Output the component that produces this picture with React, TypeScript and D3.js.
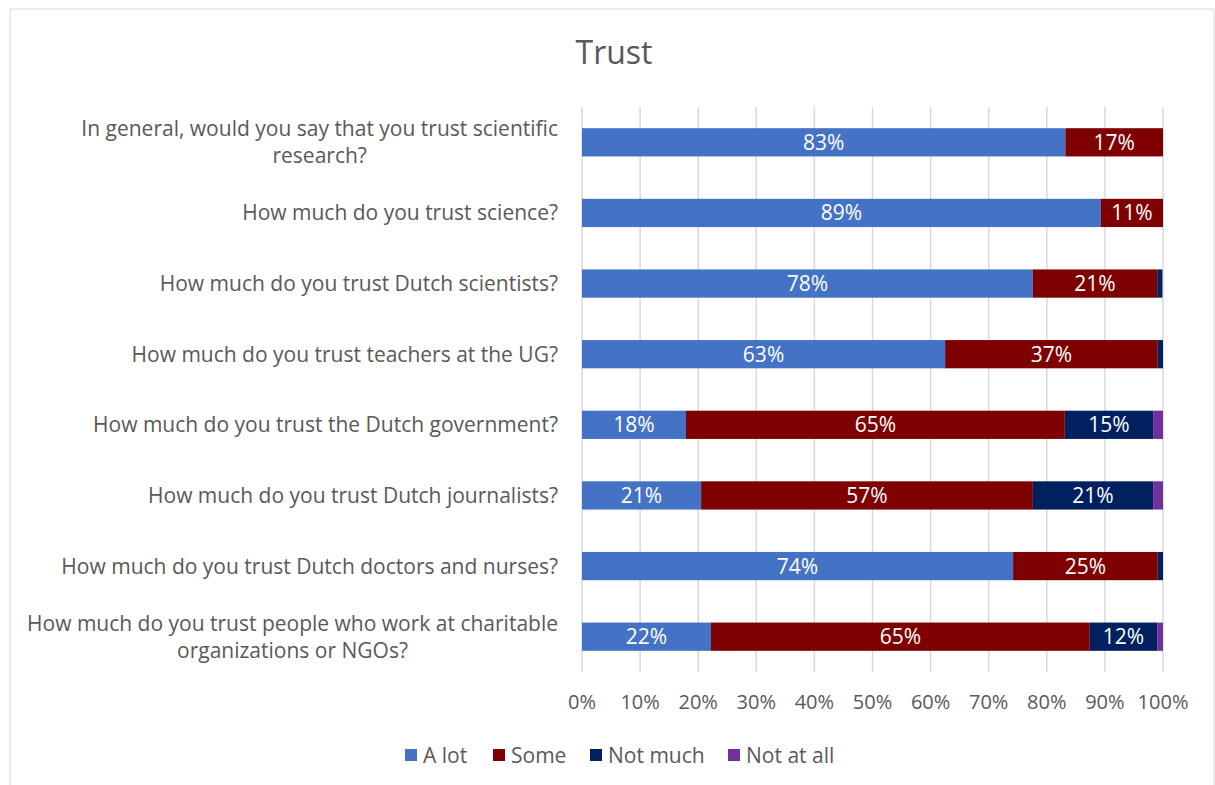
import React from "react";
import * as d3 from "d3";

const categories = [
  ["In general, would you say that you trust scientific", "research?"],
  ["How much do you trust science?"],
  ["How much do you trust Dutch scientists?"],
  ["How much do you trust teachers at the UG?"],
  ["How much do you trust the Dutch government?"],
  ["How much do you trust Dutch journalists?"],
  ["How much do you trust Dutch doctors and nurses?"],
  ["How much do you trust people who work at charitable", "organizations or NGOs?"],
];
const seriesNames = ["A lot", "Some", "Not much", "Not at all"];
const aLot = [83.2, 89.3, 77.6, 62.5, 17.9, 20.5, 74.2, 22.2];
const some = [16.8, 10.7, 21.4, 36.6, 65.2, 57.1, 24.9, 65.2];
const notMuch = [0, 0, 0.9, 0.9, 15.2, 20.7, 0.9, 11.6];
const notAtAll = [0, 0, 0, 0, 1.7, 1.7, 0, 1.0];
const xTicks = [0, 10, 20, 30, 40, 50, 60, 70, 80, 90, 100];
const colors = ["#4472C4", "#7F0000", "#002060", "#7030A0"];

const FONT = "'Open Sans', Lato, sans-serif";
let ctx: CanvasRenderingContext2D | null = null;
function measure(t: string, size: number) {
  if (!ctx) ctx = document.createElement("canvas").getContext("2d");
  ctx!.font = `${size}px 'Open Sans'`;
  return ctx!.measureText(t).width;
}

export default function App() {
  const W = 1215, H = 785;
  const left = 582, right = 1163, top = 107, bottom = 672;
  const x = d3.scaleLinear().domain([0, 100]).range([left, right]);
  const y = d3.scaleBand().domain(categories.map((_, i) => String(i))).range([top, bottom]).paddingInner(0.6).paddingOuter(0.3);
  const rows = categories.map((_, i) => ({ i, v: [aLot[i], some[i], notMuch[i], notAtAll[i]] }));
  const stack = d3.stack<any>().keys(["0", "1", "2", "3"]).value((d: any, k: string) => d.v[+k]);
  const stacked = stack(rows);
  const gray = "#595959";
  const catSize = 21;
  const legendX = [405, 493, 590, 728];
  return (
    <svg width={W} height={H} style={{ position: "absolute", left: 0, top: 0, background: "#fff" }} fontFamily={FONT}>
      <rect x={10} y={9} width={1204} height={800} fill="#fff" stroke="#d9d9d9" />
      <text x={614} y={64} textAnchor="middle" fontSize={32} fill={gray}>Trust</text>
      {xTicks.map((t) => (
        <line key={t} x1={x(t)} x2={x(t)} y1={top} y2={bottom} stroke="#d9d9d9" strokeWidth={1.5} />
      ))}
      {xTicks.map((t) => (
        <text key={"l" + t} x={x(t)} y={709} textAnchor="middle" fontSize={20} fill={gray}>{t}%</text>
      ))}
      {stacked.map((s, si) => (
        <g key={si}>
          {s.map((d: any, i) => {
            const w = x(d[1]) - x(d[0]);
            if (w <= 0) return null;
            const yy = y(String(i))!;
            const val = d[1] - d[0];
            return (
              <g key={i}>
                <rect x={x(d[0])} y={yy} width={w} height={y.bandwidth()} fill={colors[si]} />
                {val >= 5 && (
                  <text x={(x(d[0]) + x(d[1])) / 2} y={yy + y.bandwidth() / 2 + 7.5} textAnchor="middle" fontSize={21} fill="#fff">
                    {Math.round(val)}%
                  </text>
                )}
              </g>
            );
          })}
        </g>
      ))}
      {categories.map((lines, i) => {
        const cy = y(String(i))! + y.bandwidth() / 2;
        const lh = 27;
        const maxW = Math.max(...lines.map((l) => measure(l, catSize)));
        const cx = 558 - maxW / 2;
        return (
          <text key={i} textAnchor="middle" fontSize={catSize} fill={gray}>
            {lines.map((ln, j) => (
              <tspan key={j} x={cx} y={cy + 7.5 + (j - (lines.length - 1) / 2) * lh}>{ln}</tspan>
            ))}
          </text>
        );
      })}
      {seriesNames.map((n, i) => (
        <g key={n}>
          <rect x={legendX[i]} y={749} width={12} height={12} fill={colors[i]} />
          <text x={legendX[i] + 18} y={763} fontSize={21} fill={gray}>{n}</text>
        </g>
      ))}
    </svg>
  );
}
